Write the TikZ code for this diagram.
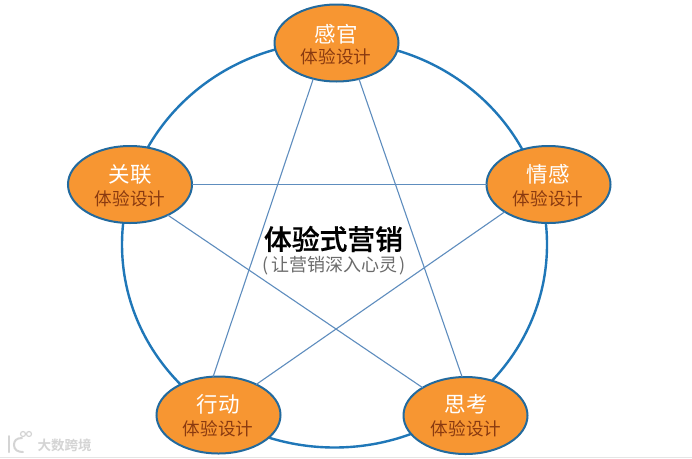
\documentclass[tikz,border=0pt]{standalone}
\usepackage{fontspec}
\setmainfont{Noto Sans CJK SC}
\newfontfamily\titlefont[FakeBold=0.6]{Noto Sans CJK SC Medium}
\newfontfamily\wmfont{Noto Sans CJK SC Bold}
\usetikzlibrary{shapes.geometric}
\definecolor{ringblue}{HTML}{1F77B8}
\definecolor{edgeblue}{HTML}{226A9E}
\definecolor{starblue}{HTML}{5E8DBE}
\definecolor{petal}{HTML}{F79632}
\definecolor{subtext}{HTML}{8A3A10}
\definecolor{wm}{HTML}{D4D4D4}
\tikzset{
  petalnode/.style={ellipse,draw=edgeblue,line width=2pt,fill=petal,minimum width=124pt,minimum height=77pt,inner sep=0pt,outer sep=0pt},
  starline/.style={draw=starblue,line width=1.1pt},
  ringline/.style={ellipse,draw=ringblue,line width=2.4pt,minimum width=425pt,minimum height=406pt,inner sep=0pt,outer sep=0pt},
  headtext/.style={text=white,font=\fontsize{21.5}{23}\selectfont},
  subtextstyle/.style={text=subtext,font=\fontsize{17.6}{19}\selectfont},
  wmline/.style={draw=wm,line width=2pt,line cap=round}
}
\begin{document}
\begin{tikzpicture}[x=1pt,y=-1pt]
\useasboundingbox (0,0) rectangle (692,458);
\fill[white] (0,0) rectangle (692,458);
\fill[black!10] (0,456.6) rectangle (692,458);
\node[ringline] (ring) at (334.5,244.5) {};
\node[petalnode] (gan) at (336.5,43) {};
\node[petalnode] (lian) at (130,184.5) {};
\node[petalnode] (qing) at (548.5,184.5) {};
\node[petalnode] (xing) at (218.5,415) {};
\node[petalnode] (si) at (465.5,415.5) {};
\draw[starline] (gan.237.6) -- (xing.98);
\draw[starline] (gan.302.4) -- (si.95);
\draw[starline] (lian.0) -- (qing.180);
\draw[starline] (lian.321) -- (si.147);
\draw[starline] (qing.212) -- (xing.39.7);
\node[headtext] (t1) at (336,34) {感官};
\node[subtextstyle] (s1) at (336,57) {体验设计};
\node[headtext] (t2) at (130,174.5) {关联};
\node[subtextstyle] (s2) at (130,199) {体验设计};
\node[headtext] (t3) at (548,174.5) {情感};
\node[subtextstyle] (s3) at (548,199) {体验设计};
\node[headtext] (t4) at (218,404.5) {行动};
\node[subtextstyle] (s4) at (218,429) {体验设计};
\node[headtext] (t5) at (466,404.5) {思考};
\node[subtextstyle] (s5) at (466,429) {体验设计};
\node[font=\titlefont\fontsize{27.8}{29}\selectfont,text=black] (title) at (333.5,239) {体验式营销};
\node[font=\fontsize{18}{20}\selectfont,text=black!58] (sub) at (334,266) {(\kern2pt 让营销深入心灵\kern2pt )};
% watermark logo and text
\coordinate (la) at (9,436);
\coordinate (lb) at (9,452);
\draw[wmline] (la) -- (lb);
\coordinate (ca) at (22,438);
\coordinate (cb) at (14,445);
\coordinate (cc) at (23,452);
\draw[wmline] (ca) .. controls (16,438) and (14,441) .. (cb) .. controls (14,450) and (18,452) .. (cc);
\node[circle,draw=wm,line width=1.2pt,minimum size=5pt,inner sep=0pt] (oa) at (23,434) {};
\node[circle,draw=wm,line width=1.2pt,minimum size=5pt,inner sep=0pt] (ob) at (29,434) {};
\node[font=\wmfont\fontsize{13.5}{15}\selectfont,text=wm] (wmark) at (64.5,445) {大数跨境};
\end{tikzpicture}
\end{document}
